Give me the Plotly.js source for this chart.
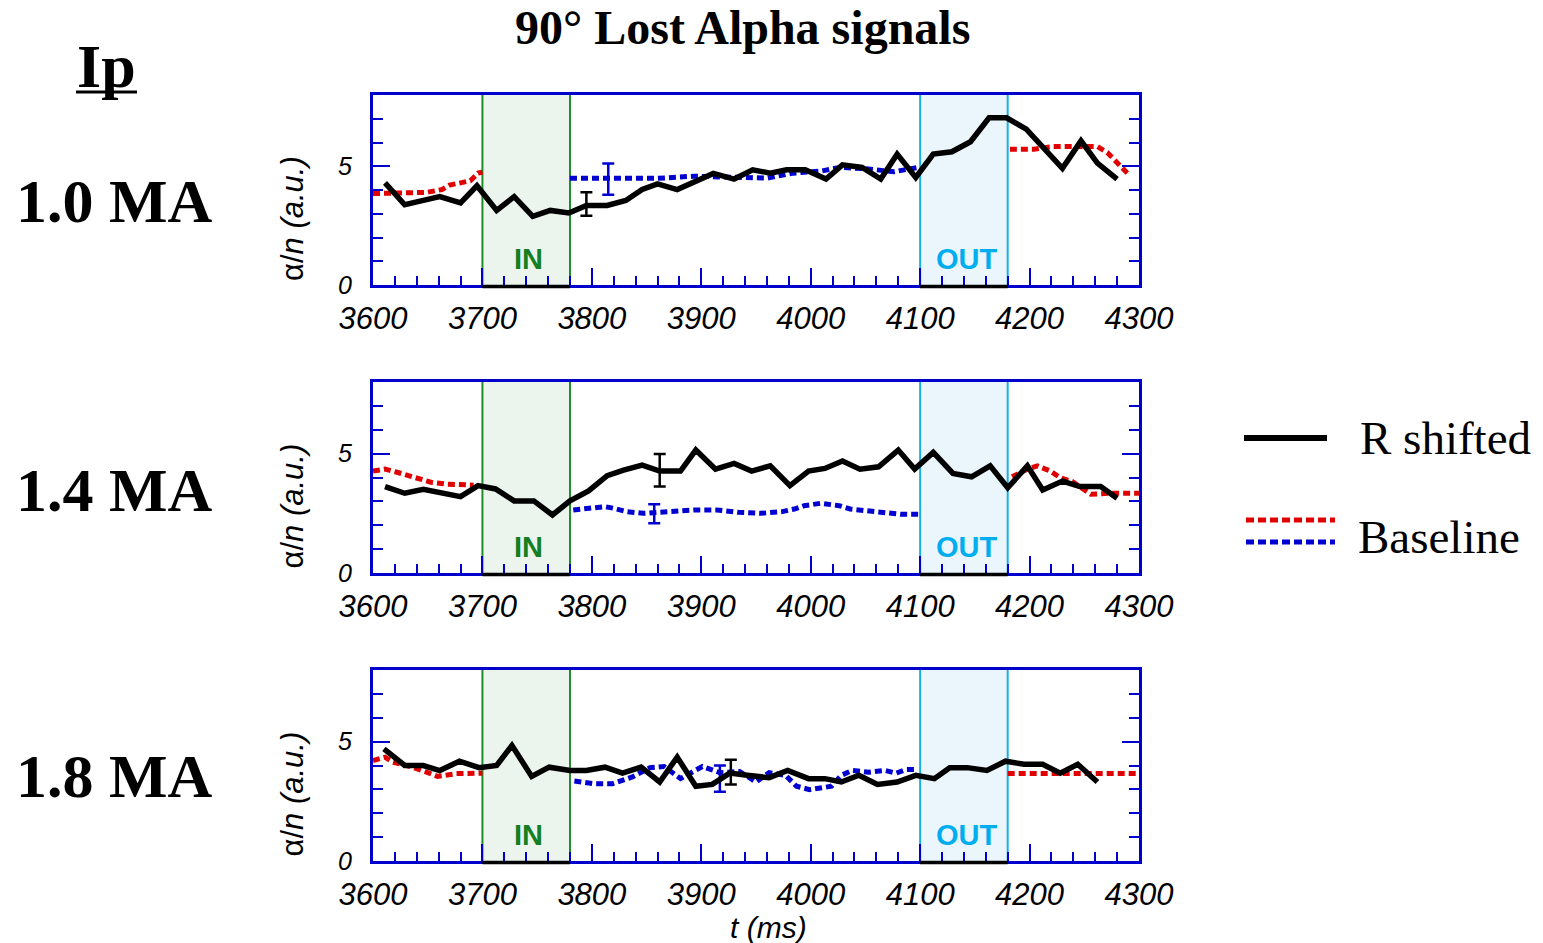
<!DOCTYPE html>
<html>
<head>
<meta charset="utf-8">
<script src="https://cdn.plot.ly/plotly-3.0.1.min.js"></script>
<style>html,body{margin:0;padding:0;background:#fff;overflow:hidden}#chart{width:1543px;height:943px}</style>
</head>
<body>
<div id="chart"></div>
<script>
// ---------- DATA ----------
const panelLabels = ["1.0 MA", "1.4 MA", "1.8 MA"];
const xTickVals = [3600, 3700, 3800, 3900, 4000, 4100, 4200, 4300];
const inWindow = [3700, 3780];
const outWindow = [4100, 4180];

// Panel 1 (1.0 MA)
const t1_R = [3611,3629,3645,3661,3680,3695,3713,3729,3746,3762,3779,3795,3814,3831,3846,3860,3878,3895,3911,3930,3947,3963,3978,3995,4014,4029,4047,4064,4079,4096,4112,4129,4146,4163,4179,4197,4213,4230,4247,4262,4280];
const y1_R = [4.30,3.38,3.55,3.72,3.46,4.18,3.14,3.72,2.89,3.14,3.03,3.35,3.35,3.56,4.02,4.26,4.02,4.39,4.70,4.46,4.85,4.71,4.85,4.85,4.46,5.06,4.95,4.46,5.51,4.53,5.51,5.61,6.03,7.04,7.04,6.56,5.79,4.91,6.07,5.13,4.46];
const t1_redA = [3600,3617,3649,3663,3670,3680,3689,3696,3700];
const y1_redA = [3.85,3.88,3.90,4.02,4.21,4.30,4.39,4.71,4.75];
const t1_redB = [4182,4204,4222,4245,4262,4271,4282,4291];
const y1_redB = [5.72,5.72,5.83,5.83,5.83,5.58,5.05,4.63];
const t1_blue = [3780,3820,3860,3893,3930,3960,3984,4010,4027,4050,4076,4098];
const y1_blue = [4.49,4.49,4.49,4.58,4.55,4.50,4.71,4.80,4.95,4.90,4.77,4.95];
const err1_R = {t: 3795, y: 3.41, e: 0.49};
const err1_B = {t: 3815, y: 4.46, e: 0.66};

// Panel 2 (1.4 MA)
const t2_R = [3611,3629,3646,3663,3680,3696,3712,3729,3747,3764,3780,3797,3814,3829,3846,3862,3881,3895,3913,3930,3946,3963,3981,3998,4013,4029,4045,4062,4080,4095,4112,4130,4147,4164,4180,4198,4212,4230,4246,4265,4280];
const y2_R = [3.62,3.34,3.51,3.38,3.20,3.66,3.52,3.02,3.02,2.43,3.02,3.44,4.08,4.31,4.52,4.27,4.27,5.15,4.35,4.59,4.27,4.49,3.66,4.27,4.38,4.69,4.35,4.45,5.15,4.35,5.05,4.17,4.03,4.49,3.57,4.49,3.48,3.85,3.62,3.62,3.13];
const t2_redA = [3600,3611,3622,3640,3653,3668,3680,3692];
const y2_redA = [4.27,4.35,4.22,3.99,3.80,3.72,3.71,3.68];
const t2_redB = [4184,4198,4207,4219,4228,4239,4256,4274,4300];
const y2_redB = [4.03,4.35,4.49,4.27,3.99,3.83,3.30,3.34,3.34];
const t2_blue = [3783,3801,3812,3820,3832,3847,3869,3893,3914,3934,3954,3974,3985,3994,4009,4026,4036,4058,4082,4099];
const y2_blue = [2.64,2.71,2.78,2.71,2.57,2.50,2.57,2.64,2.64,2.54,2.50,2.57,2.68,2.82,2.92,2.82,2.68,2.57,2.46,2.46];
const err2_R = {t: 3862, y: 4.30, e: 0.68};
const err2_B = {t: 3857, y: 2.48, e: 0.40};

// Panel 3 (1.8 MA)
const t3_R = [3610,3629,3646,3661,3679,3697,3713,3727,3745,3761,3780,3795,3812,3828,3845,3862,3878,3895,3910,3926,3942,3962,3979,3998,4013,4028,4044,4061,4079,4096,4113,4127,4143,4161,4178,4195,4212,4228,4244,4262];
const y3_R = [4.70,4.00,4.00,3.79,4.18,3.91,4.00,4.84,3.54,3.93,3.79,3.79,3.93,3.68,3.93,3.31,4.35,3.13,3.21,3.68,3.59,3.49,3.79,3.45,3.45,3.31,3.59,3.21,3.31,3.59,3.45,3.91,3.91,3.79,4.18,4.05,4.05,3.68,4.05,3.31];
const t3_redA = [3600,3611,3618,3634,3649,3659,3676,3700];
const y3_redA = [4.21,4.35,4.14,3.96,3.72,3.54,3.66,3.68];
const t3_redB = [4180,4300];
const y3_redB = [3.66,3.66];
const t3_blue = [3784,3801,3819,3828,3837,3853,3866,3881,3901,3917,3935,3950,3962,3977,3987,3999,4010,4019,4028,4038,4053,4068,4078,4087,4098];
const y3_blue = [3.35,3.24,3.24,3.38,3.52,3.91,3.96,3.45,3.96,3.70,3.75,3.31,3.70,3.59,3.13,2.99,3.09,3.13,3.59,3.79,3.72,3.79,3.68,3.83,3.83];
const err3_R = {t: 3927, y: 3.72, e: 0.52};
const err3_B = {t: 3917, y: 3.45, e: 0.55};

// ---------- STYLE / LAYOUT ----------
const W = 1543, H = 943;
const px = v => v / W;
const py = v => 1 - v / H;
const BLUE_AX = '#0000cc';
const RED = '#e00000';
const BLUE = '#0000d0';
const SANS = 'Liberation Sans, Arial, sans-serif';
const SERIF = 'Liberation Serif, Times New Roman, serif';

const panels = [
  {R:[t1_R,y1_R], redA:[t1_redA,y1_redA], redB:[t1_redB,y1_redB], blue:[t1_blue,y1_blue], eR:err1_R, eB:err1_B, top:95, bot:285},
  {R:[t2_R,y2_R], redA:[t2_redA,y2_redA], redB:[t2_redB,y2_redB], blue:[t2_blue,y2_blue], eR:err2_R, eB:err2_B, top:382, bot:573},
  {R:[t3_R,y3_R], redA:[t3_redA,y3_redA], redB:[t3_redB,y3_redB], blue:[t3_blue,y3_blue], eR:err3_R, eB:err3_B, top:670, bot:861}
];

const traces = [];
const layout = {
  width: W, height: H,
  margin: {l:0, r:0, t:0, b:0},
  paper_bgcolor: '#fff', plot_bgcolor: 'rgba(0,0,0,0)',
  showlegend: false,
  shapes: [], annotations: []
};

panels.forEach((p, i) => {
  const n = i + 1;
  const xa = 'x' + (n === 1 ? '' : n), ya = 'y' + (n === 1 ? '' : n);
  const xk = 'xaxis' + (n === 1 ? '' : n), yk = 'yaxis' + (n === 1 ? '' : n);
  const dash = '7px,4px';
  traces.push({x:p.redA[0], y:p.redA[1], xaxis:xa, yaxis:ya, mode:'lines', line:{color:RED, width:5, dash:dash}, hoverinfo:'skip'});
  traces.push({x:p.redB[0], y:p.redB[1], xaxis:xa, yaxis:ya, mode:'lines', line:{color:RED, width:5, dash:dash}, hoverinfo:'skip'});
  traces.push({x:p.blue[0], y:p.blue[1], xaxis:xa, yaxis:ya, mode:'lines', line:{color:BLUE, width:5, dash:dash}, hoverinfo:'skip'});
  traces.push({x:[p.eB.t], y:[p.eB.y], xaxis:xa, yaxis:ya, mode:'markers', marker:{size:1, opacity:0},
    error_y:{type:'data', array:[p.eB.e], color:BLUE, thickness:2.5, width:6}, hoverinfo:'skip'});
  traces.push({x:p.R[0], y:p.R[1], xaxis:xa, yaxis:ya, mode:'lines', line:{color:'#000', width:5.5}, hoverinfo:'skip'});
  traces.push({x:[p.eR.t], y:[p.eR.y], xaxis:xa, yaxis:ya, mode:'markers', marker:{size:1, opacity:0},
    error_y:{type:'data', array:[p.eR.e], color:'#000', thickness:2.5, width:6}, hoverinfo:'skip'});

  layout[xk] = {
    domain:[px(373), px(1139)], anchor: ya, range:[3600, 4300],
    tickvals: xTickVals, ticktext: xTickVals.map(String),
    ticks:'inside', ticklen:17, tickwidth:2, tickcolor:BLUE_AX,
    linecolor:BLUE_AX, linewidth:3, mirror:true, showgrid:false, zeroline:false,
    tickfont:{family:SANS, size:31, style:'italic', color:'#000'},
    ticklabelstandoff: 4,
    minor:{dtick:20, tick0:3600, ticks:'inside', ticklen:9, tickwidth:2, tickcolor:BLUE_AX, showgrid:false},
    fixedrange:true
  };
  layout[yk] = {
    domain:[py(p.bot), py(p.top)], anchor: xa, range:[0, 8],
    tickvals:[0, 5], ticktext:['0', '5'],
    ticks:'inside', ticklen:17, tickwidth:2, tickcolor:BLUE_AX,
    linecolor:BLUE_AX, linewidth:3, mirror:'ticks', showgrid:false, zeroline:false,
    tickfont:{family:SANS, size:25, style:'italic', color:'#000'},
    ticklabelstandoff: 13,
    minor:{dtick:1, tick0:0, ticks:'inside', ticklen:10, tickwidth:2, tickcolor:BLUE_AX, showgrid:false},
    fixedrange:true
  };

  // IN / OUT windows
  layout.shapes.push({type:'rect', xref:xa, yref:ya, x0:inWindow[0], x1:inWindow[1], y0:0, y1:8, fillcolor:'#ebf5ed', line:{width:0}, layer:'below'});
  layout.shapes.push({type:'rect', xref:xa, yref:ya, x0:outWindow[0], x1:outWindow[1], y0:0, y1:8, fillcolor:'#eaf6fc', line:{width:0}, layer:'below'});
  inWindow.forEach(x => layout.shapes.push({type:'line', xref:xa, yref:ya, x0:x, x1:x, y0:0, y1:8, line:{color:'#1e8c2a', width:2}, layer:'below'}));
  outWindow.forEach(x => layout.shapes.push({type:'line', xref:xa, yref:ya, x0:x, x1:x, y0:0, y1:8, line:{color:'#1aaee6', width:2}, layer:'below'}));
  [inWindow, outWindow].forEach(w => layout.shapes.push({type:'line', xref:xa, yref:'paper', x0:w[0], x1:w[1], y0:py(p.bot + 1.5), y1:py(p.bot + 1.5), line:{color:'#000', width:3.5}, layer:'above'}));

  layout.annotations.push({xref:xa, yref:ya, x:(inWindow[0]+inWindow[1])/2 + 2, y:1.1, text:'<b>IN</b>', showarrow:false,
    font:{family:SANS, size:29, color:'#137f20'}, xanchor:'center', yanchor:'middle'});
  layout.annotations.push({xref:xa, yref:ya, x:(outWindow[0]+outWindow[1])/2 + 3, y:1.1, text:'<b>OUT</b>', showarrow:false,
    font:{family:SANS, size:29, color:'#00aeef'}, xanchor:'center', yanchor:'middle'});

  // y-axis title
  const midY = (p.top + p.bot) / 2 + 29;
  layout.annotations.push({xref:'paper', yref:'paper', x:px(292), y:py(midY), text:'α/<i>n</i> <i>(a.u.)</i>', textangle:-90, showarrow:false,
    font:{family:SANS, size:31, color:'#000'}, xanchor:'center', yanchor:'middle'});

  // Ip label
  layout.annotations.push({xref:'paper', yref:'paper', x:px(114), y:py([201, 490, 776][i]), text:'<b>' + panelLabels[i] + '</b>', showarrow:false,
    font:{family:SERIF, size:62, color:'#000'}, xanchor:'center', yanchor:'middle'});
});

// Title, Ip header, x title
layout.annotations.push({xref:'paper', yref:'paper', x:px(742), y:py(28), text:'<b>90° Lost Alpha signals</b>', showarrow:false,
  font:{family:SERIF, size:48, color:'#000'}, xanchor:'center', yanchor:'middle'});
layout.annotations.push({xref:'paper', yref:'paper', x:px(106), y:py(66), text:'<b>Ip</b>', showarrow:false,
  font:{family:SERIF, size:62, color:'#000'}, xanchor:'center', yanchor:'middle'});
layout.shapes.push({type:'line', xref:'paper', yref:'paper', x0:px(76), x1:px(137), y0:py(92), y1:py(92), line:{color:'#000', width:3}});
layout.annotations.push({xref:'paper', yref:'paper', x:px(768), y:py(927), text:'<i>t (ms)</i>', showarrow:false,
  font:{family:SANS, size:30, color:'#000'}, xanchor:'center', yanchor:'middle'});

// Legend (drawn manually)
layout.shapes.push({type:'line', xref:'paper', yref:'paper', x0:px(1244), x1:px(1327), y0:py(438), y1:py(438), line:{color:'#000', width:6}});
layout.shapes.push({type:'line', xref:'paper', yref:'paper', x0:px(1246), x1:px(1335), y0:py(520), y1:py(520), line:{color:RED, width:5, dash:'8px,4px'}});
layout.shapes.push({type:'line', xref:'paper', yref:'paper', x0:px(1246), x1:px(1335), y0:py(542), y1:py(542), line:{color:BLUE, width:5, dash:'8px,4px'}});
layout.annotations.push({xref:'paper', yref:'paper', x:px(1358), y:py(438), text:'R shifted', showarrow:false,
  font:{family:SERIF, size:47, color:'#000'}, xanchor:'left', yanchor:'middle'});
layout.annotations.push({xref:'paper', yref:'paper', x:px(1356), y:py(537), text:'Baseline', showarrow:false,
  font:{family:SERIF, size:47, color:'#000'}, xanchor:'left', yanchor:'middle'});

Plotly.newPlot('chart', traces, layout, {staticPlot:true, displayModeBar:false});
</script>
</body>
</html>
